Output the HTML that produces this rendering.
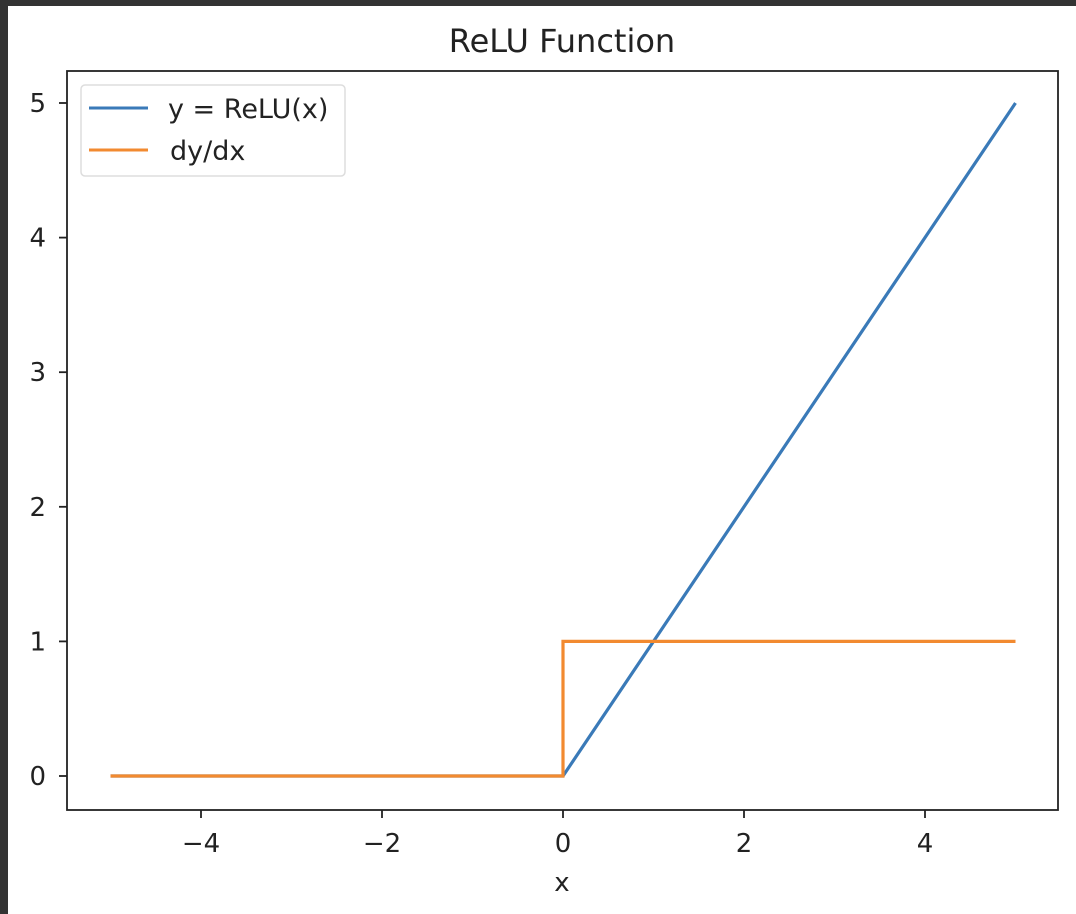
<!DOCTYPE html>
<html><head><meta charset="utf-8"><style>
html,body{margin:0;padding:0;background:#fff;}
svg{display:block;font-family:"DejaVu Sans","Liberation Sans",sans-serif;}
</style></head><body>
<svg id="chart" width="1076" height="914">
<rect x="0" y="0" width="1076" height="6" fill="#333"/>
<rect x="0" y="0" width="8" height="914" fill="#333"/>
<text x="562" y="52" text-anchor="middle" font-size="32" fill="#222">ReLU Function</text>
<g id="plot"></g>
<rect x="67" y="71" width="991" height="739" fill="none" stroke="#222" stroke-width="1.8"/>
<g>
<rect x="81" y="85" width="264" height="91" rx="4" fill="#fff" stroke="#ddd" stroke-width="1.5"/>
<line x1="89" y1="108" x2="148" y2="108" stroke="#3a7ab8" stroke-width="3"/>
<text x="168" y="118" font-size="27" fill="#222">y = ReLU(x)</text>
<line x1="89" y1="150" x2="148" y2="150" stroke="#f28a30" stroke-width="3"/>
<text x="170" y="160" font-size="27" fill="#222">dy/dx</text>
</g>
<text x="562" y="891" text-anchor="middle" font-size="26" fill="#222">x</text>
</svg>
<script>
const xTicks = [-4, -2, 0, 2, 4];
const yTicks = [0, 1, 2, 3, 4, 5];
const xValues = [-5, 0, 0, 5];
const reluValues = [0, 0, 0, 5];
const derivValues = [0, 0, 1, 1];
const ns = "http://www.w3.org/2000/svg";
const X = v => 563 + v * 90.5;
const Y = v => 776 - v * 134.6;
const g = document.getElementById('plot');
function mk(t, a){const e=document.createElementNS(ns,t);for(const k in a)e.setAttribute(k,a[k]);return e;}
xTicks.forEach(t=>{
  const l=mk('line',{x1:X(t),x2:X(t),y1:810,y2:818,stroke:'#222','stroke-width':1.8});
  
  
  g.appendChild(l);
  const tx=mk('text',{x:X(t),y:852,'text-anchor':'middle','font-size':26,fill:'#222'});
  tx.textContent=(t<0?'\u2212'+(-t):t);
  
  
  g.appendChild(tx);
});
yTicks.forEach(t=>{
  const l=mk('line',{x1:59,x2:67,y1:Y(t),y2:Y(t),stroke:'#222','stroke-width':1.8});
  
  
  g.appendChild(l);
  const tx=mk('text',{x:46,y:Y(t)+9,'text-anchor':'end','font-size':26,fill:'#222'});
  tx.textContent=t;
  
  
  g.appendChild(tx);
});
function line(vals,color,name){
  const p=mk('polyline',{points:xValues.map((x,i)=>X(x)+','+Y(vals[i])).join(' '),fill:'none',stroke:color,'stroke-width':3.2});
  
  
  g.appendChild(p);
}
line(reluValues,'#3a7ab8','relu-line');
line(derivValues,'#f28a30','derivative-line');
</script>
</body></html>
